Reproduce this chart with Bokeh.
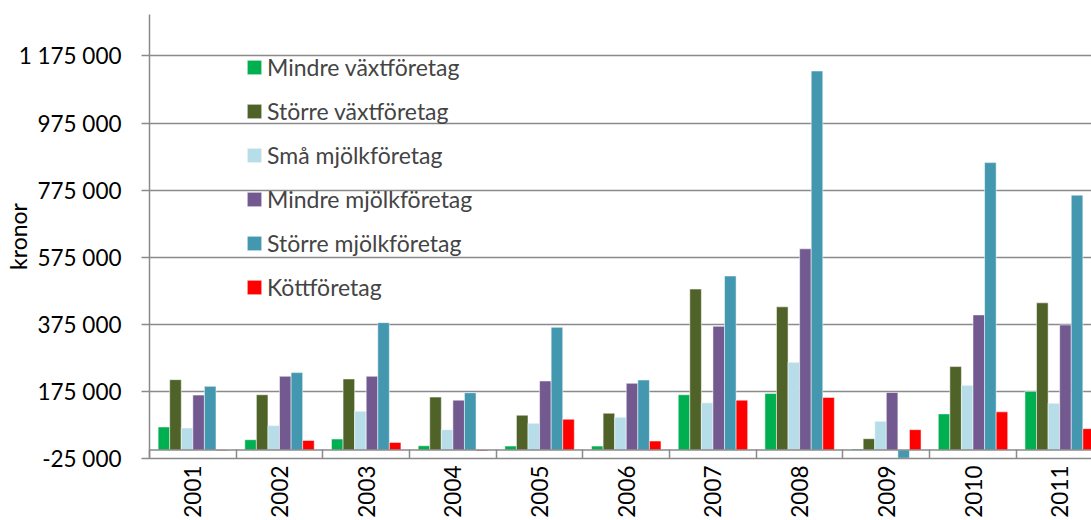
import math
from bokeh.plotting import figure
from bokeh.models import (FixedTicker, CustomJSTickFormatter, Legend, LegendItem,
                          Span, Range1d, ColumnDataSource)
from bokeh.embed import file_html
from bokeh.resources import INLINE

years = ["2001", "2002", "2003", "2004", "2005", "2006", "2007", "2008", "2009", "2010", "2011"]
series_names = ["Mindre växtföretag", "Större växtföretag", "Små mjölkföretag",
                "Mindre mjölkföretag", "Större mjölkföretag", "Köttföretag"]
mindre_vaxt = [69000, 31000, 33000, 13000, 12000, 12000, 165000, 169000, 3000, 108000, 175000]
storre_vaxt = [210000, 165000, 212000, 158000, 104000, 110000, 480000, 427000, 34000, 249000, 439000]
sma_mjolk = [66000, 73000, 116000, 61000, 80000, 98000, 141000, 262000, 86000, 193000, 140000]
mindre_mjolk = [164000, 220000, 220000, 149000, 206000, 199000, 369000, 600000, 172000, 403000, 373000]
storre_mjolk = [190000, 231000, 380000, 171000, 366000, 209000, 519000, 1130000, -24000, 857000, 760000]
kott = [-2000, 29000, 23000, -3000, 92000, 27000, 149000, 157000, 61000, 114000, 64000]
y_ticks = [-25000, 175000, 375000, 575000, 775000, 975000, 1175000]

colors = ["#00B050", "#4F6228", "#B7DEE8", "#72598F", "#4398B0", "#FF0000"]
series = [mindre_vaxt, storre_vaxt, sma_mjolk, mindre_mjolk, storre_mjolk, kott]

FONT = "Lato"
GRID = "#8a8a8a"

p = figure(width=1091, height=520, x_range=Range1d(0, 10.867),
           y_range=Range1d(-25000, 1298500), output_backend="svg",
           toolbar_location=None, min_border_left=147, min_border_right=0,
           min_border_top=14, min_border_bottom=59)
p.outline_line_color = None
p.xgrid.grid_line_color = None
p.ygrid.grid_line_color = GRID
p.ygrid.grid_line_width = 1.5
p.ygrid.ticker = FixedTicker(ticks=y_ticks)

bw = 0.1335
renderers = []
for k, (vals, col) in enumerate(zip(series, colors)):
    xs = [i + 0.5 + (k - 2.5) * bw for i in range(len(years))]
    src = ColumnDataSource(dict(x=xs, top=vals))
    r = p.vbar(x="x", top="top", bottom=0, width=bw, source=src,
               fill_color=col, line_color="white", line_alpha=0.5, line_width=1)
    renderers.append(r)

p.add_layout(Span(location=0, dimension="width", line_color=GRID, line_width=1.5))

# y axis
ya = p.yaxis[0]
ya.ticker = FixedTicker(ticks=y_ticks)
ya.formatter = CustomJSTickFormatter(code="""
const s = Math.abs(tick).toFixed(0).replace(/\\B(?=(\\d{3})+(?!\\d))/g, " ");
return (tick < 0 ? "-" : "") + s;
""")
ya.major_tick_out = 8
ya.major_tick_in = 0
ya.minor_tick_line_color = None
ya.axis_line_color = GRID
ya.axis_line_width = 1.5
ya.major_tick_line_color = GRID
ya.major_tick_line_width = 1.5
ya.major_label_standoff = 20
ya.major_label_text_font = FONT
ya.major_label_text_font_size = "22.5px"
ya.major_label_text_color = "black"
ya.axis_label = "kronor"
ya.axis_label_text_font = FONT
ya.axis_label_text_font_size = "23px"
ya.axis_label_text_font_style = "normal"
ya.axis_label_text_color = "black"
ya.axis_label_standoff = -16

# x axis: labels at category centres, boundary marks as minor ticks
xa = p.xaxis[0]
xa.ticker = FixedTicker(ticks=[i + 0.5 for i in range(len(years))],
                        minor_ticks=list(range(0, len(years) + 1)))
xa.formatter = CustomJSTickFormatter(args=dict(years=years),
                                     code="return years[Math.floor(tick)];")
xa.major_label_orientation = math.pi / 2
xa.major_label_text_font = FONT
xa.major_label_text_font_size = "22.5px"
xa.major_label_text_color = "black"
xa.major_label_standoff = 7
xa.major_tick_line_color = None
xa.major_tick_in = 0
xa.major_tick_out = 0
xa.minor_tick_in = 9
xa.minor_tick_out = 0
xa.minor_tick_line_color = GRID
xa.minor_tick_line_width = 1.5
xa.axis_line_color = GRID
xa.axis_line_width = 1.5

legend = Legend(items=[LegendItem(label=n, renderers=[r]) for n, r in zip(series_names, renderers)],
                location=(96, 157), orientation="vertical", padding=0, margin=0,
                spacing=16, glyph_width=18, glyph_height=18, label_height=14,
                label_standoff=4, label_text_font=FONT, label_text_font_size="23px",
                label_text_baseline="middle",
                border_line_alpha=0, background_fill_alpha=0)
p.add_layout(legend)

open("out.html", "w").write(file_html(p, INLINE))
